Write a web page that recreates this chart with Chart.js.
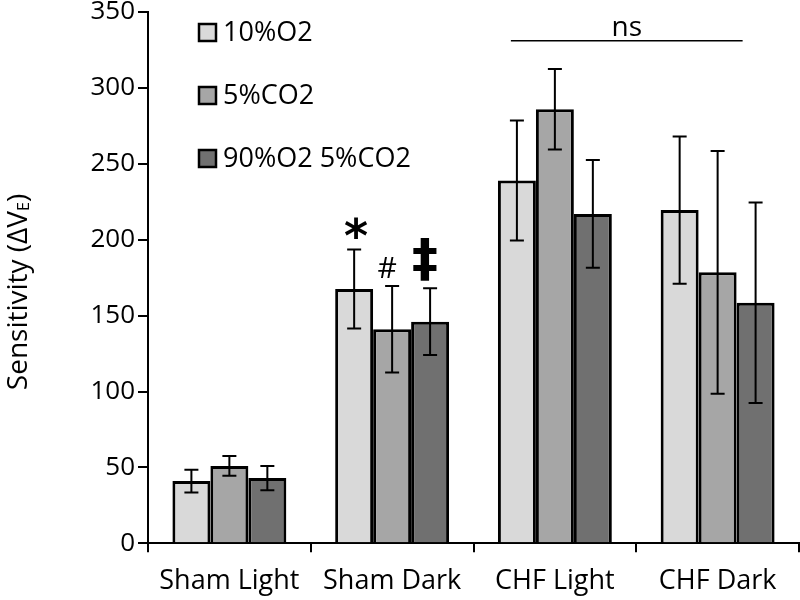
<!DOCTYPE html>
<html>
<head>
<meta charset="utf-8">
<script src="https://cdn.jsdelivr.net/npm/chart.js@4/dist/chart.umd.min.js"></script>
<style>
  html, body { margin: 0; padding: 0; background: #fff; }
  #wrap { width: 800px; height: 600px; }
</style>
</head>
<body>
<div id="wrap"><canvas id="c" width="800" height="600"></canvas></div>
<script>
// ---- data ----
const categories = ['Sham Light', 'Sham Dark', 'CHF Light', 'CHF Dark'];
const seriesNames = ['10%O2', '5%CO2', '90%O2 5%CO2'];
const valuesO2 = [41, 167.5, 239, 219.5];
const valuesCO2 = [51, 141, 286, 178.5];
const valuesHyperoxCO2 = [43, 146, 217, 158.5];
const errorsO2 = [7.5, 26, 39.5, 48.5];
const errorsCO2 = [6.5, 28.5, 26.5, 80];
const errorsHyperoxCO2 = [8, 22, 35.5, 66];
const yTicks = [0, 50, 100, 150, 200, 250, 300, 350];
const significanceMarks = [
  { category: 1, series: 0, text: '*' },
  { category: 1, series: 1, text: '#' },
  { category: 1, series: 2, text: '\u2021' }
];
const nsLabel = 'ns';
const nsValue = 331;
const yTitleMain = 'Sensitivity (\u0394V';
const yTitleSub = 'E';

// ---- styles ----
const FONT = '"Open Sans", "DejaVu Sans", sans-serif';
const fills = ['#d9d9d9', '#a6a6a6', '#707070'];
const errorSets = [errorsO2, errorsCO2, errorsHyperoxCO2];

const errorBarPlugin = {
  id: 'errorBars',
  afterDatasetsDraw(chart) {
    const ctx = chart.ctx;
    const y = chart.scales.y;
    ctx.save();
    ctx.strokeStyle = '#000';
    ctx.lineWidth = 2;
    chart.data.datasets.forEach((ds, di) => {
      const meta = chart.getDatasetMeta(di);
      meta.data.forEach((bar, i) => {
        const v = ds.data[i], e = errorSets[di][i];
        const top = y.getPixelForValue(v + e);
        const bot = y.getPixelForValue(v - e);
        const x = bar.x;
        ctx.beginPath();
        ctx.moveTo(x, top); ctx.lineTo(x, bot);
        ctx.moveTo(x - 7, top); ctx.lineTo(x + 7, top);
        ctx.moveTo(x - 7, bot); ctx.lineTo(x + 7, bot);
        ctx.stroke();
      });
    });
    // significance marks
    significanceMarks.forEach(m => {
      const bar = chart.getDatasetMeta(m.series).data[m.category];
      const v = chart.data.datasets[m.series].data[m.category] + errorSets[m.series][m.category];
      const top = y.getPixelForValue(v);
      ctx.fillStyle = '#000';
      ctx.textAlign = 'center';
      ctx.textBaseline = 'middle';
      if (m.text === '*') {
        ctx.font = 'bold 46px "DejaVu Sans", sans-serif';
        ctx.fillText(m.text, bar.x + 2, top - 10);
      } else if (m.text === '#') {
        ctx.font = '30px ' + FONT;
        ctx.fillText(m.text, bar.x - 5, top - 17);
      } else {
        ctx.font = 'bold 52px "DejaVu Sans", sans-serif';
        ctx.fillText(m.text, bar.x - 5, top - 26);
      }
    });
    // ns bracket
    const x = chart.scales.x;
    const ly = y.getPixelForValue(nsValue);
    const x1 = x.getPixelForValue(2) - 44;
    const x2 = x.getPixelForValue(3) + 25;
    ctx.lineWidth = 1.5;
    ctx.beginPath(); ctx.moveTo(x1, ly); ctx.lineTo(x2, ly); ctx.stroke();
    ctx.font = '28px ' + FONT;
    ctx.textBaseline = 'alphabetic';
    ctx.fillText(nsLabel, (x1 + x2) / 2, ly - 5);
    ctx.restore();
  }
};

const legendPlugin = {
  id: 'customLegend',
  afterDraw(chart) {
    const ctx = chart.ctx;
    ctx.save();
    const ys = [32, 95, 158];
    chart.data.datasets.forEach((ds, i) => {
      ctx.fillStyle = ds.backgroundColor;
      ctx.fillRect(199, ys[i] - 8, 17, 17);
      ctx.strokeStyle = '#000';
      ctx.lineWidth = 2.5;
      ctx.strokeRect(199, ys[i] - 8, 17, 17);
      ctx.fillStyle = '#000';
      ctx.font = '27px ' + FONT;
      ctx.textAlign = 'left';
      ctx.textBaseline = 'middle';
      ctx.fillText(ds.label, 223, ys[i] + 1);
    });
    ctx.restore();
  }
};

const yTitlePlugin = {
  id: 'yTitle',
  afterDraw(chart) {
    const ctx = chart.ctx;
    ctx.save();
    ctx.translate(19, 292);
    ctx.rotate(-Math.PI / 2);
    ctx.fillStyle = '#000';
    ctx.textBaseline = 'middle';
    const mainFont = '28px ' + FONT, subFont = '16px ' + FONT;
    ctx.font = mainFont; const w1 = ctx.measureText(yTitleMain).width;
    ctx.font = subFont; const w2 = ctx.measureText(yTitleSub).width;
    ctx.font = mainFont; const w3 = ctx.measureText(')').width;
    let sx = -(w1 + w2 + w3) / 2;
    ctx.textAlign = 'left';
    ctx.fillText(yTitleMain, sx, 0);
    ctx.font = subFont; ctx.fillText(yTitleSub, sx + w1, 5);
    ctx.font = mainFont; ctx.fillText(')', sx + w1 + w2, 0);
    ctx.restore();
  }
};

const datasets = [valuesO2, valuesCO2, valuesHyperoxCO2].map((vals, i) => ({
  label: seriesNames[i],
  data: vals,
  backgroundColor: fills[i],
  borderColor: '#000',
  borderWidth: 3,
  barPercentage: 1.0,
  categoryPercentage: 0.7
}));

new Chart(document.getElementById('c'), {
  type: 'bar',
  data: { labels: categories, datasets },
  options: {
    responsive: false,
    animation: false,
    layout: { padding: { top: 12, right: 1, left: 0, bottom: 0 } },
    plugins: { legend: { display: false }, tooltip: { enabled: false } },
    scales: {
      x: {
        grid: { display: true, drawOnChartArea: false, offset: true, tickLength: 9, color: '#000', lineWidth: 2 },
        border: { display: true, color: '#000', width: 2 },
        ticks: { color: '#000', font: { family: FONT, size: 27 }, padding: 13, maxRotation: 0 },
        afterFit(s) { s.height = 56.7; s.paddingLeft = 0; s.paddingRight = 0; }
      },
      y: {
        min: 0, max: 350,
        afterBuildTicks(s) { s.ticks = yTicks.map(v => ({ value: v })); },
        grid: { display: true, drawOnChartArea: false, tickLength: 10, color: '#000', lineWidth: 2 },
        border: { display: true, color: '#000', width: 2 },
        ticks: { color: '#000', font: { family: FONT, size: 26 }, padding: 3 },
        afterFit(s) { s.width = 148; s.paddingTop = 0; s.paddingBottom = 0; }
      }
    }
  },
  plugins: [errorBarPlugin, legendPlugin, yTitlePlugin]
});
</script>
</body>
</html>
